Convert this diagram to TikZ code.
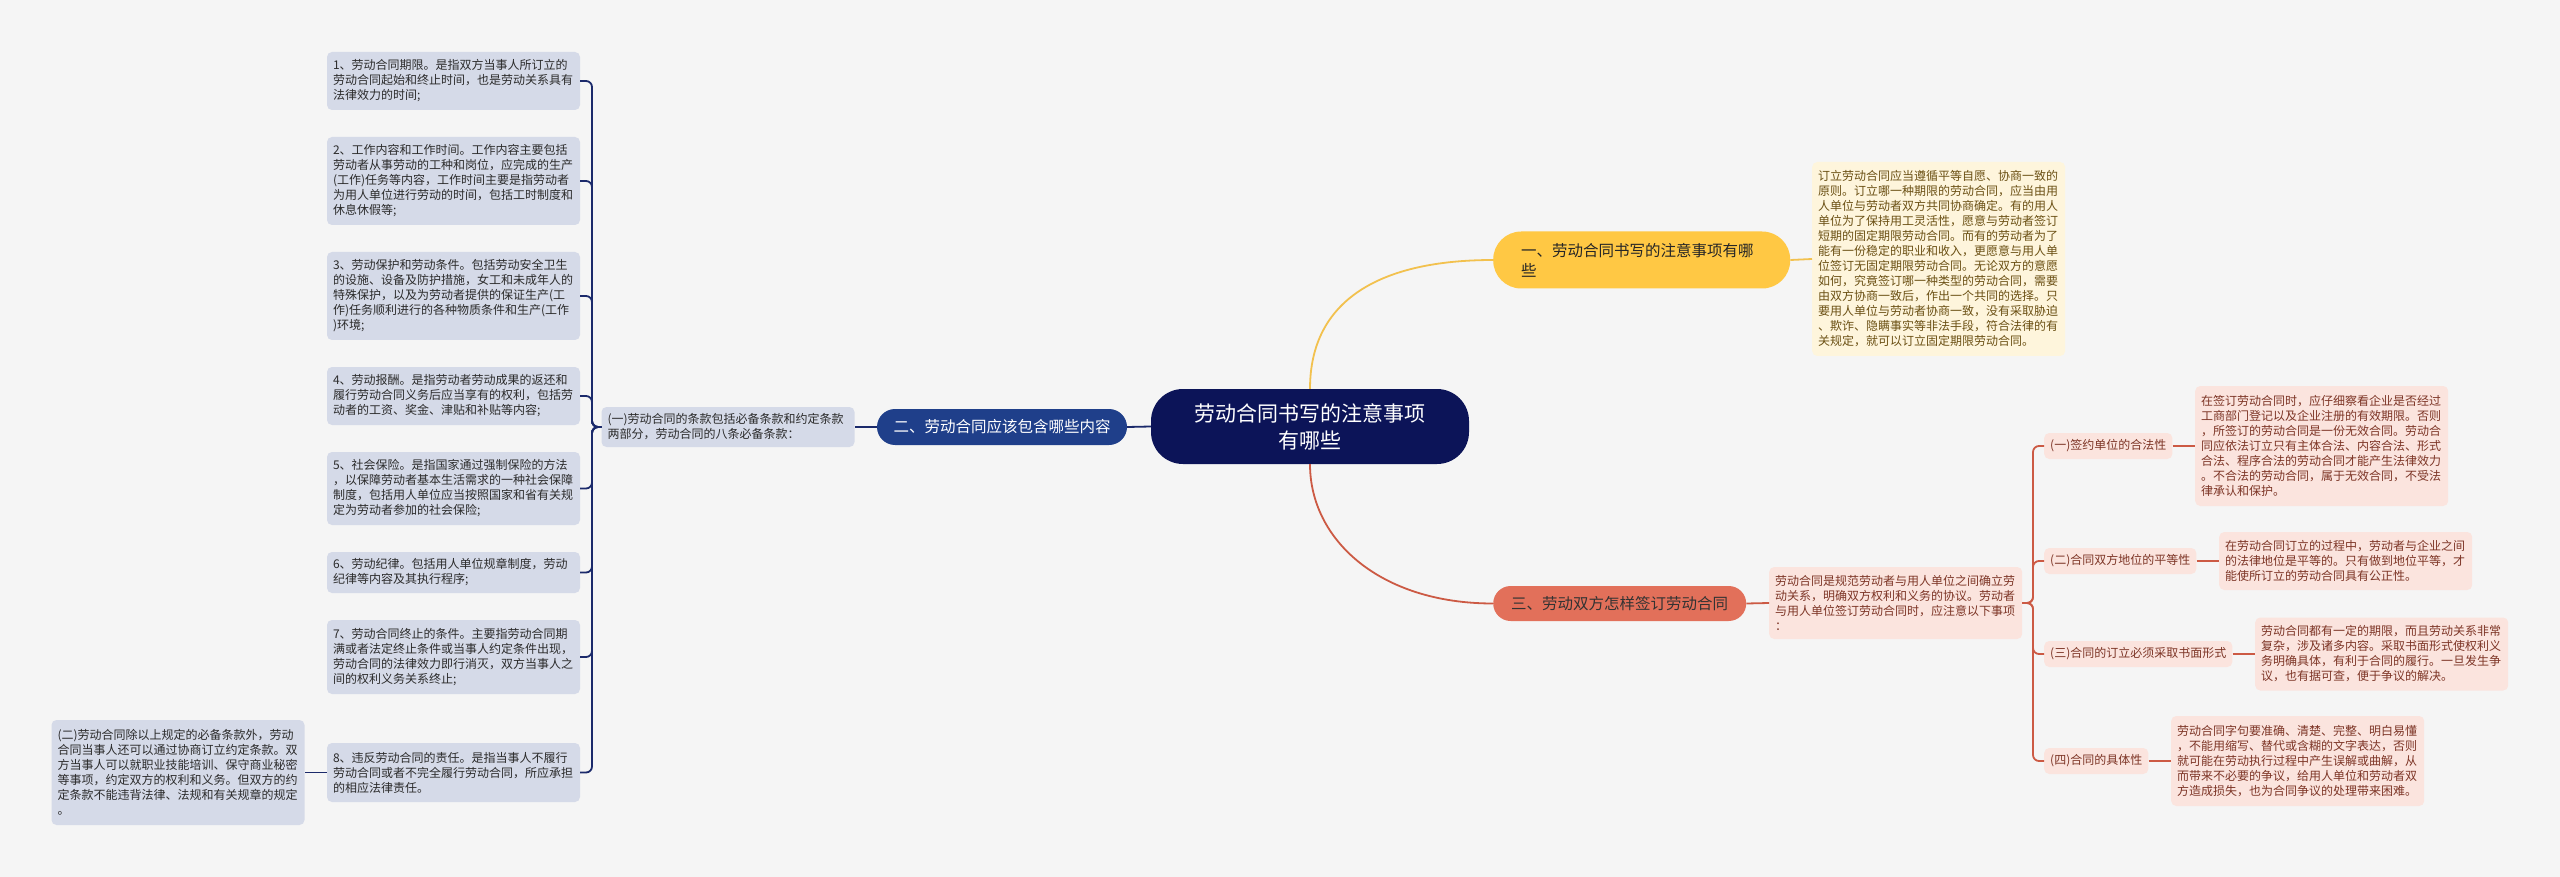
\documentclass[tikz,border=0pt]{standalone}
\usepackage{fontspec}
\setmainfont{Noto Sans CJK SC}
\definecolor{bgc}{HTML}{F5F5F5}
\definecolor{navyc}{HTML}{0C1458}
\definecolor{bluec}{HTML}{1F3F8A}
\definecolor{lconnc}{HTML}{1B2A6B}
\definecolor{lboxc}{HTML}{D5DAE8}
\definecolor{ltextc}{HTML}{2B2B2B}
\definecolor{yelc}{HTML}{FFC844}
\definecolor{ylinec}{HTML}{F2C14E}
\definecolor{yboxc}{HTML}{FEF5DC}
\definecolor{ytextc}{HTML}{6B5014}
\definecolor{salc}{HTML}{E2705A}
\definecolor{rlinec}{HTML}{CC5A44}
\definecolor{pboxc}{HTML}{FBE4DE}
\definecolor{ptextc}{HTML}{7D3526}
\begin{document}
\begin{tikzpicture}[x=1pt,y=-1pt,
  lbox/.style={fill=lboxc, rounded corners=5pt, inner xsep=6pt, inner ysep=0pt, text width=241pt, align=left, text=ltextc, font=\fontsize{12}{15}\selectfont},
  ybox/.style={fill=yboxc, rounded corners=5pt, inner xsep=6pt, inner ysep=0pt, text width=241pt, align=left, text=ytextc, font=\fontsize{12}{15}\selectfont},
  pbox/.style={fill=pboxc, rounded corners=5pt, inner xsep=6pt, inner ysep=0pt, text width=241pt, align=left, text=ptextc, font=\fontsize{12}{15}\selectfont},
  psub/.style={fill=pboxc, rounded corners=5pt, inner xsep=6pt, inner ysep=0pt, minimum height=26pt, text=ptextc, font=\fontsize{12}{15}\selectfont},
  lconn/.style={draw=lconnc, line width=1.8pt, rounded corners=6pt},
  rconn/.style={draw=rlinec, line width=1.8pt, rounded corners=6pt},
  yconn/.style={draw=ylinec, line width=1.8pt},
]
\useasboundingbox (0,0) rectangle (2560,877);
\fill[bgc] (0,0) rectangle (2560,877);

% central node
\node[fill=navyc, rounded corners=32pt, minimum width=318pt, minimum height=75pt, inner sep=0pt, text=white, align=center, font=\fontsize{21}{27}\selectfont] (c) at (1310,426.5) {劳动合同书写的注意事项\\有哪些};

% level-1 nodes
\node[fill=bluec, rounded corners=18pt, minimum width=250pt, minimum height=36pt, inner sep=0pt, text=white, font=\fontsize{15.5}{20}\selectfont] (n2) at (1002,427) {二、劳动合同应该包含哪些内容};
\node[fill=yelc, rounded corners=28pt, anchor=west, inner xsep=28pt, inner ysep=0pt, minimum height=57pt, text width=241pt, align=left, text=black!85, font=\fontsize{15.5}{20}\selectfont] (n1) at (1493,260) {一、劳动合同书写的注意事项有哪\\些};
\node[fill=salc, rounded corners=17.5pt, anchor=west, inner xsep=18pt, inner ysep=0pt, minimum height=35pt, text=black!80, font=\fontsize{15.5}{20}\selectfont] (n3) at (1493,603.5) {三、劳动双方怎样签订劳动合同};

% yellow detail
\node[ybox, anchor=west, minimum height=194pt] (y1) at (1812,259) {订立劳动合同应当遵循平等自愿、协商一致的\\原则。订立哪一种期限的劳动合同，应当由用\\人单位与劳动者双方共同协商确定。有的用人\\单位为了保持用工灵活性，愿意与劳动者签订\\短期的固定期限劳动合同。而有的劳动者为了\\能有一份稳定的职业和收入，更愿意与用人单\\位签订无固定期限劳动合同。无论双方的意愿\\如何，究竟签订哪一种类型的劳动合同，需要\\由双方协商一致后，作出一个共同的选择。只\\要用人单位与劳动者协商一致，没有采取胁迫\\、欺诈、隐瞒事实等非法手段，符合法律的有\\关规定，就可以订立固定期限劳动合同。};

% red branch
\node[pbox, anchor=west, minimum height=72pt] (intro) at (1769,603) {劳动合同是规范劳动者与用人单位之间确立劳\\动关系，明确双方权利和义务的协议。劳动者\\与用人单位签订劳动合同时，应注意以下事项\\：};
\node[psub, anchor=west] (s1) at (2044,446) {(一)签约单位的合法性};
\node[psub, anchor=west] (s2) at (2044,561) {(二)合同双方地位的平等性};
\node[psub, anchor=west] (s3) at (2044,654) {(三)合同的订立必须采取书面形式};
\node[psub, anchor=west] (s4) at (2044,761) {(四)合同的具体性};
\node[pbox, anchor=west, minimum height=120pt] (d1) at (2195,446) {在签订劳动合同时，应仔细察看企业是否经过\\工商部门登记以及企业注册的有效期限。否则\\，所签订的劳动合同是一份无效合同。劳动合\\同应依法订立只有主体合法、内容合法、形式\\合法、程序合法的劳动合同才能产生法律效力\\。不合法的劳动合同，属于无效合同，不受法\\律承认和保护。};
\node[pbox, anchor=west, minimum height=58pt] (d2) at (2219,561) {在劳动合同订立的过程中，劳动者与企业之间\\的法律地位是平等的。只有做到地位平等，才\\能使所订立的劳动合同具有公正性。};
\node[pbox, anchor=west, minimum height=73pt] (d3) at (2255,654) {劳动合同都有一定的期限，而且劳动关系非常\\复杂，涉及诸多内容。采取书面形式使权利义\\务明确具体，有利于合同的履行。一旦发生争\\议，也有据可查，便于争议的解决。};
\node[pbox, anchor=west, minimum height=90pt] (d4) at (2171,761) {劳动合同字句要准确、清楚、完整、明白易懂\\，不能用缩写、替代或含糊的文字表达，否则\\就可能在劳动执行过程中产生误解或曲解，从\\而带来不必要的争议，给用人单位和劳动者双\\方造成损失，也为合同争议的处理带来困难。};

% left branch
\node[lbox, minimum width=253pt, minimum height=40pt] (k1) at (728,427) {(一)劳动合同的条款包括必备条款和约定条款\\两部分，劳动合同的八条必备条款：};
\node[lbox, minimum height=58pt] (b1) at (453.5,81) {1、劳动合同期限。是指双方当事人所订立的\\劳动合同起始和终止时间，也是劳动关系具有\\法律效力的时间;};
\node[lbox, minimum height=88pt] (b2) at (453.5,181) {2、工作内容和工作时间。工作内容主要包括\\劳动者从事劳动的工种和岗位，应完成的生产\\(工作)任务等内容，工作时间主要是指劳动者\\为用人单位进行劳动的时间，包括工时制度和\\休息休假等;};
\node[lbox, minimum height=88pt] (b3) at (453.5,296) {3、劳动保护和劳动条件。包括劳动安全卫生\\的设施、设备及防护措施，女工和未成年人的\\特殊保护，以及为劳动者提供的保证生产(工\\作)任务顺利进行的各种物质条件和生产(工作\\)环境;};
\node[lbox, minimum height=58pt] (b4) at (453.5,396) {4、劳动报酬。是指劳动者劳动成果的返还和\\履行劳动合同义务后应当享有的权利，包括劳\\动者的工资、奖金、津贴和补贴等内容;};
\node[lbox, minimum height=73pt] (b5) at (453.5,488.5) {5、社会保险。是指国家通过强制保险的方法\\，以保障劳动者基本生活需求的一种社会保障\\制度，包括用人单位应当按照国家和省有关规\\定为劳动者参加的社会保险;};
\node[lbox, minimum height=41pt] (b6) at (453.5,572.5) {6、劳动纪律。包括用人单位规章制度，劳动\\纪律等内容及其执行程序;};
\node[lbox, minimum height=74pt] (b7) at (453.5,657) {7、劳动合同终止的条件。主要指劳动合同期\\满或者法定终止条件或当事人约定条件出现，\\劳动合同的法律效力即行消灭，双方当事人之\\间的权利义务关系终止;};
\node[lbox, minimum height=59pt] (b8) at (453.5,772.5) {8、违反劳动合同的责任。是指当事人不履行\\劳动合同或者不完全履行劳动合同，所应承担\\的相应法律责任。};
\node[lbox, minimum height=105pt] (k2) at (178,772.5) {(二)劳动合同除以上规定的必备条款外，劳动\\合同当事人还可以通过协商订立约定条款。双\\方当事人可以就职业技能培训、保守商业秘密\\等事项，约定双方的权利和义务。但双方的约\\定条款不能违背法律、法规和有关规章的规定\\。};

% connectors
\coordinate (lj) at (592,427);
\coordinate (rj) at (2033,603);
\draw[lconn] (c.west) -- (n2.east);
\draw[lconn] (n2.west) -- (k1.east);
\foreach \b in {b1,b2,b3,b4,b5,b6,b7,b8}{
  \draw[lconn] (k1.west) -- (lj) |- (\b.east);
}
\draw[lconn] (b8.west) -- (k2.east);

\draw[yconn] (c.north) .. controls (1310,300) and (1380,260) .. (n1.west);
\draw[yconn] (n1.east) -- (y1.west);

\draw[rconn, rounded corners=0pt] (c.south) .. controls (1310,540) and (1380,603.5) .. (n3.west);
\draw[rconn] (n3.east) -- (intro.west);
\foreach \s in {s1,s2,s3,s4}{
  \draw[rconn] (intro.east) -- (rj) |- (\s.west);
}
\draw[rconn] (s1.east) -- (d1.west);
\draw[rconn] (s2.east) -- (d2.west);
\draw[rconn] (s3.east) -- (d3.west);
\draw[rconn] (s4.east) -- (d4.west);
\end{tikzpicture}
\end{document}
